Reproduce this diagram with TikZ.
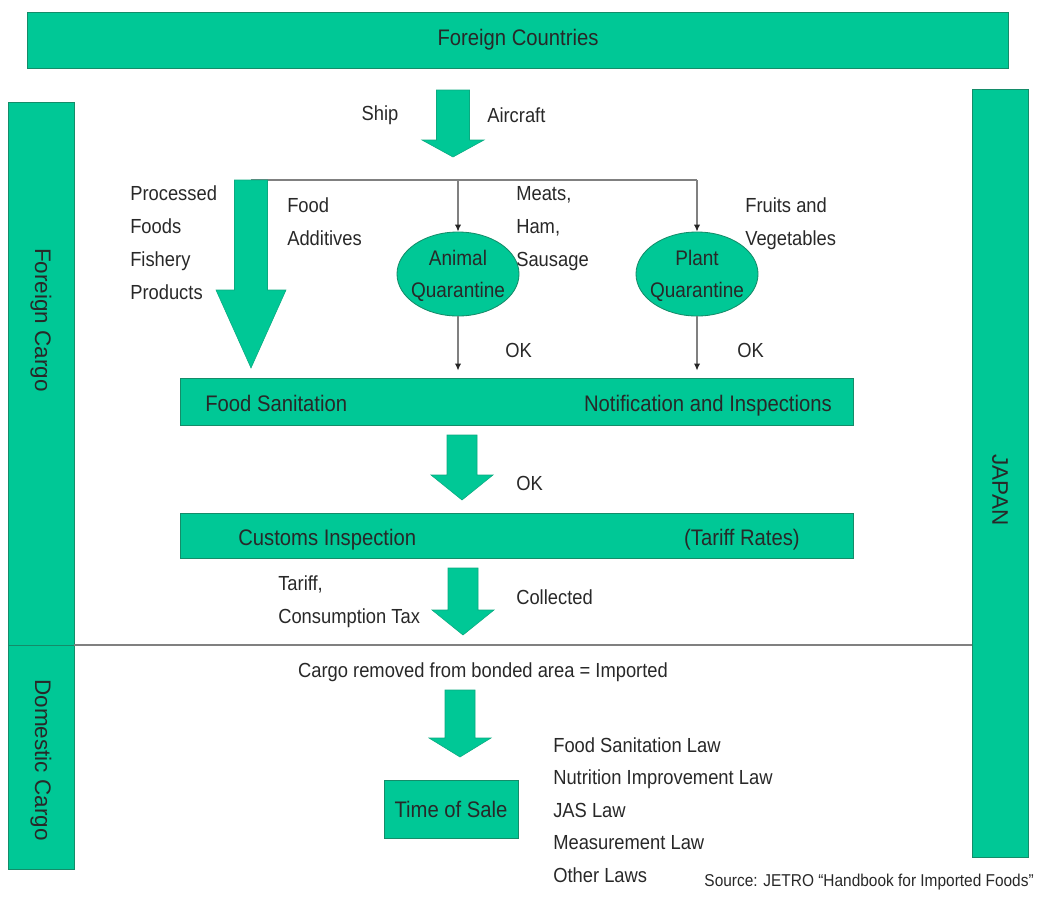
\documentclass[tikz,border=0pt]{standalone}
\usepackage{fontspec}
\setmainfont{Liberation Sans}[FakeStretch=0.9]
\newfontfamily\upfont{Liberation Sans}
\usetikzlibrary{shapes}
\usetikzlibrary{arrows.meta}
\definecolor{jgreen}{RGB}{0,200,150}
\definecolor{jedge}{RGB}{20,140,105}
\definecolor{jtext}{RGB}{40,40,40}
\tikzset{
  bar/.style={draw=jedge, fill=jgreen, line width=0.6pt, inner sep=0pt,
    text=jtext, font=\fontsize{16}{19}\selectfont},
  bartext/.style={text=jtext, inner sep=0pt, font=\fontsize{16}{19}\selectfont},
  rottext/.style={text=jtext, inner sep=0pt, rotate=-90, font=\upfont\fontsize{16}{19}\selectfont},
  lbl/.style={text=jtext, inner sep=0pt, font=\fontsize{14.5}{17}\selectfont},
  quar/.style={ellipse, draw=jedge, fill=jgreen, line width=0.6pt, inner sep=0pt,
    minimum width=3.05cm, minimum height=2.1cm},
  quartext/.style={align=center, text=jtext, inner sep=0pt, font=\fontsize{15}{23}\selectfont},
  feed/.style={draw=gray, line width=0.8pt},
  feedtip/.style={-{Latex[length=5pt,width=4.5pt,color=black!85]}},
  fat/.style={fill=jgreen, draw=jedge!50!jgreen, line width=0.4pt}
}

\begin{document}
\begin{tikzpicture}[x=0.025cm, y=-0.025cm]
  \useasboundingbox (0,0) rectangle (1056,896);

  \node[bar, minimum width=24.5cm, minimum height=1.4cm] (countries) at (518,40) {Foreign Countries};
  \node[bar, minimum width=1.65cm, minimum height=13.575cm] (fcargo) at (41,373.5) {};
  \node[rottext] (fcargotxt) at (41,320) {Foreign Cargo};
  \node[bar, minimum width=1.65cm, minimum height=5.6cm] (dcargo) at (41,757) {};
  \node[rottext] (dcargotxt) at (41,760) {Domestic Cargo};
  \node[bar, minimum width=1.4cm, minimum height=19.175cm] (japan) at (1000,473.5) {};
  \node[rottext] (japantxt) at (1000,490) {JAPAN};

  \coordinate (sepL) at (74,645);
  \coordinate (sepR) at (972,645);
  \draw[feed] (sepL) -- (sepR);

  \node[lbl] (ship) at (380,115) {Ship};
  \node[lbl, anchor=west] (aircraft) at (487,115) {Aircraft};

  \node[quar] (animal) at (458,274) {};
  \node[quartext] (animaltxt) at (458,276) {Animal\\Quarantine};
  \node[quar] (plant) at (697,274) {};
  \node[quartext] (planttxt) at (697,276) {Plant\\Quarantine};

  \node[bar, minimum width=16.8cm, minimum height=1.175cm] (sanit) at (517,401.5) {};
  \node[bartext, anchor=base west] (sanitL) at (205,411) {Food Sanitation};
  \node[bartext, anchor=base east] (sanitR) at (832,411) {Notification and Inspections};
  \node[bar, minimum width=16.8cm, minimum height=1.125cm] (customs) at (517,535.5) {};
  \node[bartext, anchor=base west] (customsL) at (238,545) {Customs Inspection};
  \node[bartext, anchor=base east] (customsR) at (800,545) {(Tariff Rates)};
  \node[bar, minimum width=3.35cm, minimum height=1.45cm] (sale) at (451,809) {Time of Sale};

  \coordinate (feedstart) at (251,180);
  \coordinate (fork) at (458,180);
  \coordinate (corner) at (697,180);
  \draw[feed] (feedstart) -- (corner);
  \draw[feed, feedtip] (fork) -- (animal.north);
  \draw[feed, feedtip] (corner) -- (plant.north);
  \draw[feed, feedtip, shorten >=5pt] (animal.south) -- (animal.south |- sanit.north);
  \draw[feed, feedtip, shorten >=5pt] (plant.south) -- (plant.south |- sanit.north);

  \foreach \cx/\yt/\yh/\yp/\sw/\hw in {453/90/140/157/16.5/31, 251/180/290/368/16.5/35,
      462/435/475/500/15/31, 463/568/610/635/15/31, 460/690/738/757/15/31}
    \draw[fat] (\cx-\sw,\yt) -- (\cx+\sw,\yt) -- (\cx+\sw,\yh) -- (\cx+\hw,\yh)
      -- (\cx,\yp) -- (\cx-\hw,\yh) -- (\cx-\sw,\yh) -- cycle;

  \foreach \t [count=\i] in {Processed,Foods,Fishery,Products}
    \node[lbl, anchor=base west] (proc\i) at (130,{200+33*(\i-1)}) {\t};
  \foreach \t [count=\i] in {Food,Additives}
    \node[lbl, anchor=base west] (addit\i) at (287,{212+33*(\i-1)}) {\t};
  \foreach \t [count=\i] in {{Meats,},{Ham,},Sausage}
    \node[lbl, anchor=base west] (meat\i) at (516,{200+33*(\i-1)}) {\t};
  \foreach \t [count=\i] in {Fruits and,Vegetables}
    \node[lbl, anchor=base west] (fruit\i) at (745,{212+33*(\i-1)}) {\t};

  \node[lbl, anchor=base west] (okanimal) at (505,357) {OK};
  \node[lbl, anchor=base west] (okplant) at (737,357) {OK};
  \node[lbl, anchor=base west] (oksanit) at (516,490) {OK};
  \node[lbl, anchor=base west] (tariff1) at (278,590) {Tariff,};
  \node[lbl, anchor=base west] (tariff2) at (278,623) {Consumption Tax};
  \node[lbl, anchor=base west] (collected) at (516,604) {Collected};
  \node[lbl] (removed) at (483,672) {Cargo removed from bonded area = Imported};

  \foreach \law [count=\i] in {Food Sanitation Law,Nutrition Improvement Law,JAS Law,Measurement Law,Other Laws}
    \node[lbl, anchor=base west] (law\i) at (553,{752+32.5*(\i-1)}) {\law};

  \node[text=jtext, inner sep=0pt, anchor=base east, font=\fontsize{12.2}{14}\selectfont] (source)
    at (1034,886) {Source: JETRO ``Handbook for Imported Foods''};
\end{tikzpicture}
\end{document}
